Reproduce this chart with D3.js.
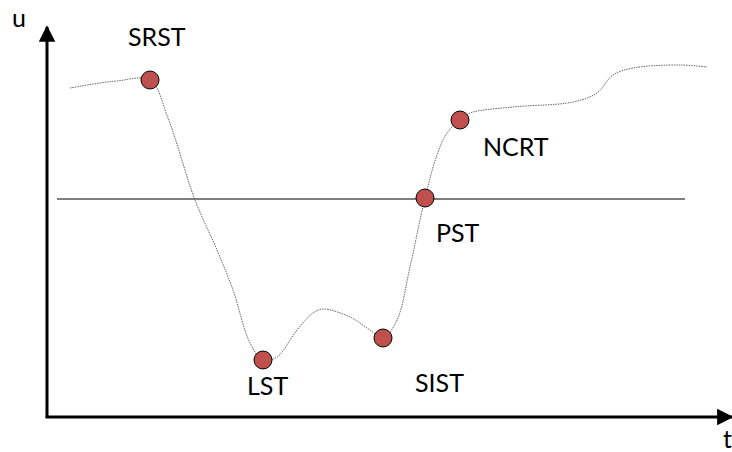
<!DOCTYPE html>
<html><head><meta charset="utf-8">
<script src="https://cdn.jsdelivr.net/npm/d3@7"></script>
<style>html,body{margin:0;padding:0;background:#fff;}svg{display:block;}</style>
</head><body>
<svg id="c" width="732" height="452"></svg>
<script>
// Curve samples (t, u)
const curveT = [23, 53, 70, 103, 121, 148, 170, 186, 203, 216, 230, 250, 266, 276, 303, 323, 336, 350, 363, 378, 390, 400, 413, 423, 466, 526, 550, 566, 586, 633, 660];
const curveU = [329, 334, 336, 337, 299, 217, 167, 127, 74, 57, 60, 87, 104, 108, 100, 87, 79, 97, 150, 219, 262, 284, 297, 304, 310, 315, 324, 342, 349, 352, 350];
// Key states
const stateNames = ["SRST", "LST", "SIST", "PST", "NCRT"];
const stateT = [103, 216, 336, 378, 413];
const stateU = [337, 57, 79, 219, 297];
// Threshold line
const thresholdU = 218;
const thresholdT = [10, 638];
const axisLabels = ["u", "t"];

const svg = d3.select("#c");
const x = d3.scaleLinear().domain([0, 685]).range([47, 732]);
const y = d3.scaleLinear().domain([0, 390]).range([417, 27]);

const defs = svg.append("defs");
defs.append("marker").attr("id","arr").attr("viewBox","0 0 10 10").attr("refX",9).attr("refY",5)
  .attr("markerWidth",5.5).attr("markerHeight",5.5).attr("markerUnits","strokeWidth").attr("orient","auto")
  .append("path").attr("d","M0,0L10,5L0,10Z").attr("fill","#000");

svg.append("line").attr("x1", x(0)).attr("y1", y(0)).attr("x2", x(0)).attr("y2", y(390))
  .attr("stroke","#000").attr("stroke-width",3).attr("marker-end","url(#arr)");
svg.append("line").attr("x1", x(0)-1.5).attr("y1", y(0)).attr("x2", x(685)).attr("y2", y(0))
  .attr("stroke","#000").attr("stroke-width",3).attr("marker-end","url(#arr)");

svg.append("line").attr("x1", x(thresholdT[0])).attr("x2", x(thresholdT[1]))
  .attr("y1", y(thresholdU)).attr("y2", y(thresholdU)).attr("stroke","#000").attr("stroke-width",1);

const pts = curveT.map((t,i)=>[t, curveU[i]]);
const line = d3.line().x(d=>x(d[0])).y(d=>y(d[1])).curve(d3.curveCatmullRom.alpha(0.5));
svg.append("path").attr("d", line(pts)).attr("fill","none").attr("stroke","#666")
  .attr("stroke-width",1).attr("stroke-dasharray","1.5,1");

const states = stateNames.map((n,i)=>({n, t: stateT[i], u: stateU[i]}));
svg.selectAll("circle.s").data(states).join("circle").attr("class","s")
  .attr("cx", d=>x(d.t)).attr("cy", d=>y(d.u)).attr("r", 9)
  .attr("fill","#c0504d").attr("stroke","#000").attr("stroke-width",1);

const off = {SRST:[-22,-34], LST:[-16,35], SIST:[32,54], PST:[11,44], NCRT:[23,36]};
svg.selectAll("text.s").data(states).join("text").attr("class","s")
  .attr("x", d=>x(d.t)+off[d.n][0]).attr("y", d=>y(d.u)+off[d.n][1])
  .attr("font-family","Lato, 'Open Sans', sans-serif").attr("font-size",25).attr("fill","#000")
  .text(d=>d.n);

svg.append("text").attr("x", 12).attr("y", 27).attr("font-family","Lato, sans-serif").attr("font-size",25).text(axisLabels[0]);
svg.append("text").attr("x", 723).attr("y", 448).attr("font-family","Lato, sans-serif").attr("font-size",25).text(axisLabels[1]);
</script>
</body></html>
